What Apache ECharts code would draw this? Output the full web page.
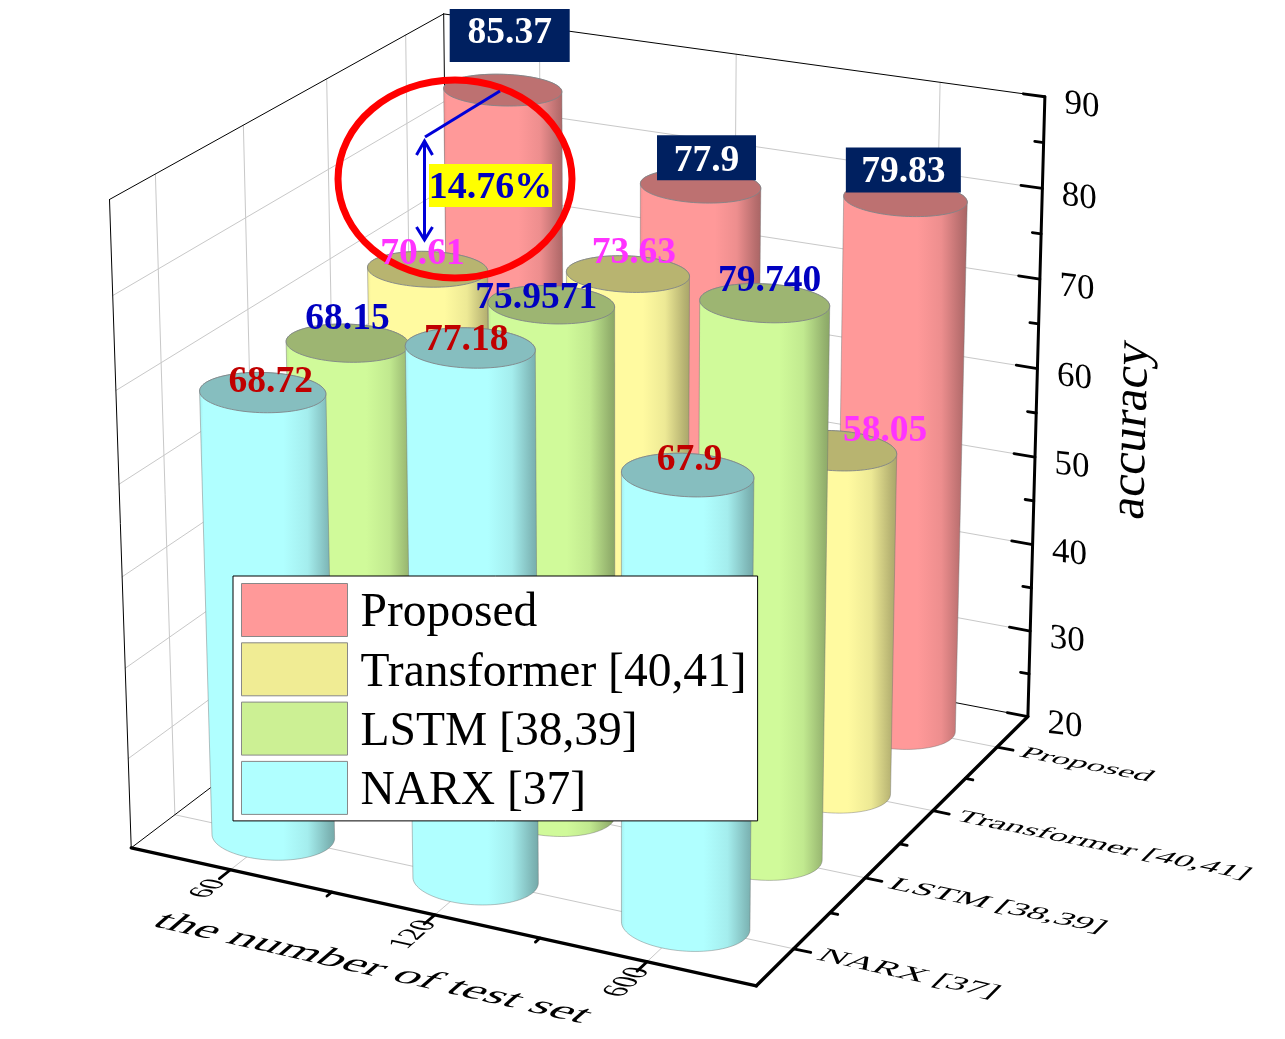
<!DOCTYPE html>
<html><head><meta charset="utf-8">
<style>html,body{margin:0;padding:0;background:#fff}#c{width:1285px;height:1039px}</style>
<script src="https://cdn.jsdelivr.net/npm/echarts@6/dist/echarts.min.js"></script>
</head><body><div id="c"></div>
<script>
// ---------- data ----------
const testSetSizes = ['60', '120', '600'];
const modelNames = ['Proposed', 'Transformer [40,41]', 'LSTM [38,39]', 'NARX [37]'];
const accuracyTicks = [20, 30, 40, 50, 60, 70, 80, 90];
const proposed = [85.37, 77.9, 79.83];
const transformer = [70.61, 73.63, 58.05];
const lstm = [68.15, 75.9571, 79.74];
const narx = [68.72, 77.18, 67.9];
const proposedLabels = ['85.37', '77.9', '79.83'];
const transformerLabels = ['70.61', '73.63', '58.05'];
const lstmLabels = ['68.15', '75.9571', '79.740'];
const narxLabels = ['68.72', '77.18', '67.9'];

// ---------- layout / style ----------
const FONT = '"Liberation Serif","Times New Roman",serif';
const seriesValues = [proposed, transformer, lstm, narx];
const seriesLabels = [proposedLabels, transformerLabels, lstmLabels, narxLabels];
const bodyColors = [[255,153,153],[255,250,160],[208,250,154],[176,255,255]];
const topColors = ['#BD7171','#B8B470','#9DB572','#86BEBF'];
const legendColors = ['#FF9999','#F0EC94','#CCF094','#B0FFFF'];
const labelColors = ['#FFFFFF','#FF33FF','#0000C0','#C00000'];
const labelNudge = [
  [[7,-56.5],[6,-24.5],[-2,-27]],
  [[-5,-15],[6,-21],[51,-19]],
  [[0,-24],[-15,-6],[5,-22]],
  [[8,-10],[-4,-7],[2,-15]]
];
// navy plates behind the Proposed labels: width, height, vertical offset from the text anchor
const labelPlate = [[120,53,2],[99,45,-3.5],[115,45,-2]];
const RX = 0.093, RY = 0.078;
// corner calibration of the 3D box: [x,y,z] -> pixel
const cameraCorners = [
  [0,0,0,133,850],[1,0,0,755,985],[1,1,0,1029,717],[0,1,0,449,604],
  [0,0,1,109,198],[1,1,1,1045,97],[0,1,1,444,15]
];

function solveCamera(pts){
  const n = 11, A = [], b = [];
  for (let i=0;i<n;i++){A.push(new Array(n).fill(0));b.push(0);}
  function add(row,rhs){
    for(let i=0;i<n;i++){b[i]+=row[i]*rhs;for(let j=0;j<n;j++)A[i][j]+=row[i]*row[j];}
  }
  pts.forEach(([x,y,z,X,Y])=>{
    add([x,y,z,1,0,0,0,0,-X*x,-X*y,-X*z],X);
    add([0,0,0,0,x,y,z,1,-Y*x,-Y*y,-Y*z],Y);
  });
  for(let i=0;i<n;i++){
    let p=i;for(let r=i+1;r<n;r++)if(Math.abs(A[r][i])>Math.abs(A[p][i]))p=r;
    [A[i],A[p]]=[A[p],A[i]];[b[i],b[p]]=[b[p],b[i]];
    for(let r=i+1;r<n;r++){const f=A[r][i]/A[i][i];for(let c=i;c<n;c++)A[r][c]-=f*A[i][c];b[r]-=f*b[i];}
  }
  const s=new Array(n).fill(0);
  for(let i=n-1;i>=0;i--){let v=b[i];for(let c=i+1;c<n;c++)v-=A[i][c]*s[c];s[i]=v/A[i][i];}
  return s;
}
const P = solveCamera(cameraCorners);
function proj(x,y,z){
  const w=P[8]*x+P[9]*y+P[10]*z+1;
  return [(P[0]*x+P[1]*y+P[2]*z+P[3])/w,(P[4]*x+P[5]*y+P[6]*z+P[7])/w];
}
function hull(points){
  const pts=points.slice().sort((a,b)=>a[0]-b[0]||a[1]-b[1]);
  const cross=(o,a,b)=>(a[0]-o[0])*(b[1]-o[1])-(a[1]-o[1])*(b[0]-o[0]);
  const lo=[],up=[];
  pts.forEach(p=>{while(lo.length>1&&cross(lo[lo.length-2],lo[lo.length-1],p)<=0)lo.pop();lo.push(p);});
  pts.slice().reverse().forEach(p=>{while(up.length>1&&cross(up[up.length-2],up[up.length-1],p)<=0)up.pop();up.push(p);});
  return lo.slice(0,-1).concat(up.slice(0,-1));
}
function shade(c,k){return 'rgb('+c.map(v=>Math.round(v*k)).join(',')+')';}
function circle(cx,cy,z){
  const out=[];
  for(let i=0;i<96;i++){const t=i/96*Math.PI*2;out.push(proj(cx+RX*Math.cos(t),cy+RY*Math.sin(t),z));}
  return out;
}
// row 0 (Proposed) is at the back wall side
function rowPos(r){return (3-r+0.5)/4;}
// normalised position from the hidden axes spanning the canvas
function norm(api,idx,val){
  const p=api.coord([idx,val]);
  return [p[0]/api.getWidth(),1-p[1]/api.getHeight()];
}
// text lying in a plane of the box: zrender matrix is
// [sx, tan(skewX)*sy ; -tan(skewY)*sx, sy]
function planeText(pos,uVec,dVec,F,text,extra){
  const p0=proj(pos[0],pos[1],pos[2]);
  const pu=proj(pos[0]+uVec[0],pos[1]+uVec[1],pos[2]+uVec[2]);
  const pd=proj(pos[0]+dVec[0],pos[1]+dVec[1],pos[2]+dVec[2]);
  const ux=(pu[0]-p0[0])/F,uy=(pu[1]-p0[1])/F,dx=(pd[0]-p0[0])/F,dy=(pd[1]-p0[1])/F;
  return {type:'text',x:p0[0],y:p0[1],scaleX:ux,scaleY:dy,
    skewY:Math.atan(-uy/ux),skewX:Math.atan(dx/dy),silent:true,
    style:Object.assign({text:text,fill:'#000',font:F+'px '+FONT},extra)};
}
function lineEl(a,b,stroke,w){
  return {type:'line',silent:true,shape:{x1:a[0],y1:a[1],x2:b[0],y2:b[1]},style:{stroke:stroke,lineWidth:w,lineCap:'round'}};
}
function renderFrame(params,api){
  const ch=[],G='#c8c8c8',K='#000';
  const zOf=v=>norm(api,0,v)[1];
  const xs=testSetSizes.map((_,i)=>norm(api,i,20)[0]);
  const ys=modelNames.map((_,r)=>rowPos(r));
  // wall + floor grid
  accuracyTicks.slice(1,-1).forEach(v=>{const z=zOf(v);
    ch.push(lineEl(proj(0,0,z),proj(0,1,z),G,1));
    ch.push(lineEl(proj(0,1,z),proj(1,1,z),G,1));});
  ys.forEach(y=>{
    ch.push(lineEl(proj(0,y,0),proj(0,y,1),G,1));
    ch.push(lineEl(proj(0,y,0),proj(1,y,0),G,1));});
  xs.forEach(x=>{
    ch.push(lineEl(proj(x,1,0),proj(x,1,1),G,1));
    ch.push(lineEl(proj(x,0,0),proj(x,1,0),G,1));});
  // thin box edges
  [[[0,0,0],[0,0,1]],[[0,0,1],[0,1,1]],[[0,1,1],[1,1,1]],[[0,1,1],[0,1,0]],[[0,1,0],[1,1,0]],[[0,1,0],[0,0,0]]]
    .forEach(e=>ch.push(lineEl(proj(...e[0]),proj(...e[1]),K,1)));
  // thick axes
  ch.push(lineEl(proj(0,0,0),proj(1,0,0),K,3.3));
  ch.push(lineEl(proj(1,0,0),proj(1,1,0),K,3.3));
  ch.push(lineEl(proj(1,1,0),proj(1,1,1),K,3));
  // accuracy ticks and labels
  accuracyTicks.forEach((v,i)=>{
    const z=zOf(v);
    ch.push(lineEl(proj(1,1,z),proj(0.966,1,z),K,2.8));
    if(i<accuracyTicks.length-1){
      const zm=zOf(v+(accuracyTicks[1]-accuracyTicks[0])/2);
      ch.push(lineEl(proj(1,1,zm),proj(0.986,1,zm),K,2.8));
    }
    const p=proj(1,1,z);
    ch.push({type:'text',x:p[0]+37,y:p[1]+9,skewY:-Math.atan(0.12),silent:true,
      style:{text:String(v),font:'35px '+FONT,fill:'#000',align:'center',verticalAlign:'middle'}});
  });
  // x ticks and labels
  testSetSizes.forEach((t,i)=>{
    const x=xs[i];
    ch.push(lineEl(proj(x,0,0),proj(x,-0.032,0),K,2.8));
    if(i<testSetSizes.length-1){const m=(i+1)/testSetSizes.length;ch.push(lineEl(proj(m,0,0),proj(m,-0.014,0),K,2.8));}
    ch.push(planeText([x+0.002,-0.068,0],[0,0.062,0],[0.05,0,0],24,t,{align:'center',verticalAlign:'middle'}));
  });
  // row ticks and labels
  modelNames.forEach((n,r)=>{
    const y=ys[r];
    ch.push(lineEl(proj(1,y,0),proj(1.026,y,0),K,2.8));
    if(r<modelNames.length-1){const m=(3-r)/4;ch.push(lineEl(proj(1,m,0),proj(1.012,m,0),K,2.8));}
    ch.push(planeText([1.04,y-0.03,0],[0.0565,0,0],[0,-0.0575,0],30,n,{align:'left',verticalAlign:'bottom'}));
  });
  // axis titles
  ch.push(planeText([0.5,-0.185,0],[0.0785,0,0],[0,-0.075,0],40,'the number of test set',{align:'center',verticalAlign:'middle'}));
  ch.push({type:'text',x:1132,y:430,rotation:Math.PI/2,skewY:-Math.atan(0.026),skewX:Math.atan(-0.17),silent:true,
    style:{text:'accuracy',font:'50px '+FONT,fill:'#000',align:'center',verticalAlign:'middle'}});
  return {type:'group',children:ch};
}
function barRenderer(r){
  return function(params,api){
    const n=norm(api,api.value(0),api.value(1));
    const base=norm(api,api.value(0),20);
    const cx=n[0],cy=rowPos(r),z=n[1];
    const top=circle(cx,cy,z),bot=circle(cx,cy,base[1]);
    const c=bodyColors[r];
    const fill=new echarts.graphic.LinearGradient(0,0,1,0,[
      {offset:0,color:shade(c,0.93)},{offset:0.03,color:shade(c,1)},{offset:0.62,color:shade(c,1)},
      {offset:0.8,color:shade(c,0.93)},{offset:0.95,color:shade(c,0.72)},{offset:1,color:shade(c,0.66)}]);
    return {type:'group',children:[
      {type:'polygon',silent:true,shape:{points:hull(top.concat(bot))},style:{fill:fill,stroke:'rgba(110,110,110,0.55)',lineWidth:0.8}},
      {type:'polygon',silent:true,shape:{points:top},style:{fill:topColors[r],stroke:'#808488',lineWidth:0.9}}
    ]};
  };
}
function labelRenderer(r){
  return function(params,api){
    const i=api.value(0);
    const n=norm(api,i,api.value(1));
    const p=proj(n[0],rowPos(r),n[1]);
    const d=labelNudge[r][i];
    const x=p[0]+d[0],y=p[1]+d[1];
    const ch=[];
    if(r===0){
      const b=labelPlate[i];
      ch.push({type:'rect',silent:true,shape:{x:x-b[0]/2,y:y+b[2]-b[1]/2,width:b[0],height:b[1]},style:{fill:'#002060'}});
    }
    ch.push({type:'text',silent:true,x:x,y:y,style:{text:seriesLabels[r][i],font:'bold 37.5px '+FONT,fill:labelColors[r],align:'center',verticalAlign:'middle'}});
    return {type:'group',children:ch};
  };
}
const series=[{type:'custom',name:'frame',z:1,silent:true,data:[[0,20]],encode:{x:0,y:1},renderItem:renderFrame,clip:false}];
modelNames.forEach((name,r)=>{
  series.push({type:'custom',name:name,z:2,silent:true,clip:false,encode:{x:0,y:1},
    itemStyle:{color:legendColors[r]},
    data:seriesValues[r].map((v,i)=>[i,v]),renderItem:barRenderer(r)});
});
modelNames.forEach((name,r)=>{
  series.push({type:'custom',name:name+' labels',z:4,silent:true,clip:false,encode:{x:0,y:1},
    data:seriesValues[r].map((v,i)=>[i,v]),renderItem:labelRenderer(r)});
});
const chart=echarts.init(document.getElementById('c'),null,{renderer:'canvas'});
const BLUE='#0000D8';
chart.setOption({
  animation:false,
  backgroundColor:'#fff',
  grid:{left:0,right:0,top:0,bottom:0},
  xAxis:{type:'category',data:testSetSizes,show:false},
  yAxis:{type:'value',min:accuracyTicks[0],max:accuracyTicks[accuracyTicks.length-1],interval:10,show:false},
  legend:{
    orient:'vertical',left:233,top:576,z:5,selectedMode:false,
    data:modelNames.map((n,i)=>({name:n,icon:'rect',itemStyle:{color:legendColors[i],borderColor:'#888',borderWidth:1}})),
    itemWidth:106,itemHeight:53,itemGap:4.3,padding:[7,11,5,8],
    backgroundColor:'#fff',borderColor:'#000',borderWidth:1,
    formatter:name=>'{a|'+name+'}',
    textStyle:{rich:{a:{fontFamily:FONT,fontSize:47.5,color:'#000',padding:[8,0,0,8],height:44,lineHeight:44}}}
  },
  graphic:{elements:[
    {type:'ellipse',z:3,silent:true,shape:{cx:455,cy:179,rx:117,ry:99},style:{fill:'none',stroke:'#FF0000',lineWidth:7}},
    {type:'line',z:3,silent:true,shape:{x1:425,y1:137,x2:500,y2:91},style:{stroke:BLUE,lineWidth:3}},
    {type:'line',z:3,silent:true,shape:{x1:424.5,y1:141,x2:424.5,y2:240},style:{stroke:BLUE,lineWidth:3}},
    {type:'polyline',z:3,silent:true,shape:{points:[[416.5,155],[424.5,141],[432.5,155]]},style:{fill:'none',stroke:BLUE,lineWidth:3}},
    {type:'polyline',z:3,silent:true,shape:{points:[[416.5,227],[424.5,240],[432.5,227]]},style:{fill:'none',stroke:BLUE,lineWidth:3}},
    {type:'rect',z:4,silent:true,shape:{x:429,y:164,width:123,height:43},style:{fill:'#FFFF00'}},
    {type:'text',z:4,silent:true,x:490.5,y:188.5,style:{text:'14.76%',font:'bold 38px '+FONT,fill:'#0000C0',align:'center',verticalAlign:'middle'}}
  ]},
  series:series
});
</script></body></html>
